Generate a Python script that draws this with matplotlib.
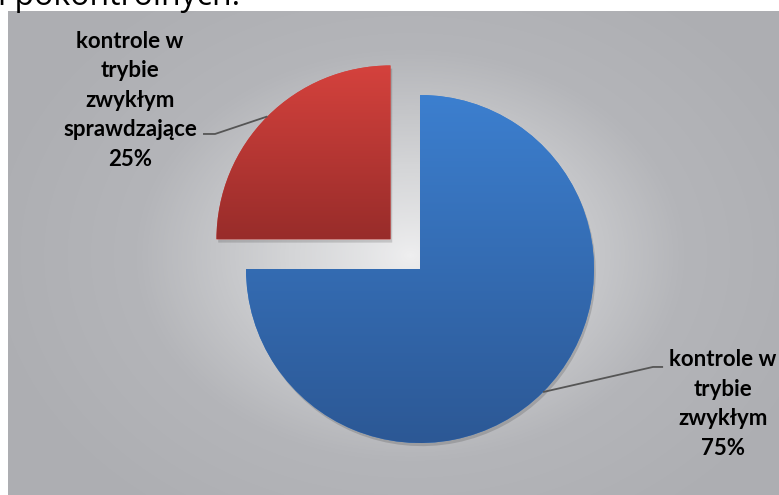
import numpy as np
import matplotlib.pyplot as plt
from matplotlib.colors import LinearSegmentedColormap
from matplotlib.patches import Wedge

labels = ["kontrole w\ntrybie\nzwykłym", "kontrole w\ntrybie\nzwykłym\nsprawdzające"]
shares = [75, 25]
explode = [0, 0.24]
top_colors = ["#3c7fcf", "#d5423d"]
bottom_colors = ["#2c5895", "#982c2a"]
header = "i pokontrolnych."

W, H = 779, 495
fig = plt.figure(figsize=(W / 100, H / 100), dpi=100)
fig.patch.set_facecolor("white")

# grey radial gradient panel
px_left, px_top = 8, 11
bg = fig.add_axes([px_left / W, 0, (W - px_left) / W, (H - px_top) / H])
bg.set_axis_off()
yy, xx = np.mgrid[px_top:H, px_left:W]
r = np.sqrt(((xx - 410) / 440.0) ** 2 + ((yy - 255) / 330.0) ** 2)
r = np.clip(r, 0, 1) ** 0.85
grey = LinearSegmentedColormap.from_list("g", ["#efeff0", "#d4d5d7", "#b4b5b9", "#adaeb2"])
bg.imshow(r, cmap=grey, vmin=0, vmax=1, aspect="auto", interpolation="bilinear")

fig.text(-0.002, 1 - 5 / H, header, fontsize=23, family="Open Sans", va="baseline", ha="left")

# pie axes: 1 data unit = 174 px, centre at (420, 269) px from top-left
R = 174.0
cx, cy = 420.0, H - 269.0
L = 2.4
ax = fig.add_axes([(cx - L * R) / W, (cy - L * R) / H, 2 * L * R / W, 2 * L * R / H])
wedges, _ = ax.pie(shares, explode=explode, startangle=90, counterclock=False,
                   colors=top_colors, wedgeprops=dict(linewidth=0))
ax.set_axis_off()

grad = np.linspace(1, 0, 256).reshape(-1, 1)
for w, c_top, c_bot in zip(wedges, top_colors, bottom_colors):
    # soft shadow
    sh = Wedge((w.center[0] + 0.01, w.center[1] - 0.018), w.r, w.theta1, w.theta2,
               facecolor="black", alpha=0.15, linewidth=0, zorder=0.5)
    ax.add_patch(sh)
    w.set_zorder(1)
    bb = w.get_path().get_extents(w.get_transform() + ax.transData.inverted())
    cmap = LinearSegmentedColormap.from_list("w", [c_bot, c_top])
    im = ax.imshow(grad, cmap=cmap, extent=[bb.x0, bb.x1, bb.y0, bb.y1],
                   aspect="auto", zorder=2, interpolation="bilinear")
    im.set_clip_path(w)
ax.set_xlim(-L, L)
ax.set_ylim(-L, L)

font = dict(family=["Lato", "DejaVu Sans"], fontsize=16, fontweight="bold",
            ha="center", va="center", linespacing=1.5, color="black")

label_pos = [(1.741, -0.776), (-1.667, 0.971)]
elbows = [((1.339, -0.563), (1.397, -0.563)), ((-1.178, 0.776), (-1.247, 0.776))]
for w, lab, share, (tx, ty), (e1, e2) in zip(wedges, labels, shares, label_pos, elbows):
    mid = np.deg2rad((w.theta1 + w.theta2) / 2)
    sx = w.center[0] + np.cos(mid)
    sy = w.center[1] + np.sin(mid)
    ax.plot([sx, e1[0], e2[0]], [sy, e1[1], e2[1]], color="#555555", lw=1.3,
            zorder=3, solid_capstyle="butt")
    ax.text(tx, ty, f"{lab}\n{share}%", **font)

fig.savefig("out.png", dpi=100)
